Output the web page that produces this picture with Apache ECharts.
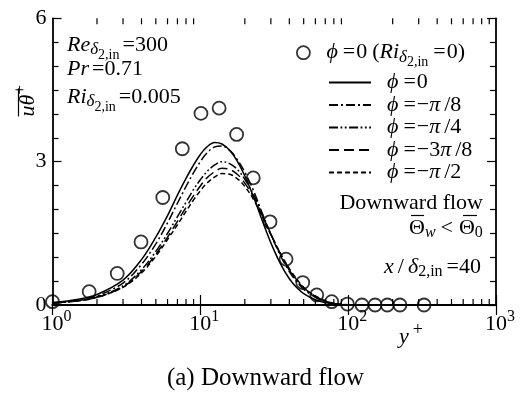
<!DOCTYPE html>
<html><head><meta charset="utf-8">
<script src="https://cdn.jsdelivr.net/npm/echarts@6/dist/echarts.min.js"></script>
<style>html,body{margin:0;padding:0;background:#fff}#c{width:531px;height:394px}</style>
</head><body><div id="c"></div>
<script>
// ---- data ----
const circX = [1.0, 1.77, 2.74, 3.97, 5.57, 7.55, 10.1, 13.4, 17.6, 22.8, 29.6, 38.0, 49.3, 61.3, 77.4, 98.8, 124, 152, 184, 224, 326];
const circY = [0.07, 0.28, 0.66, 1.32, 2.25, 3.27, 4.01, 4.12, 3.57, 2.66, 1.74, 0.96, 0.47, 0.21, 0.07, 0.02, 0.0, 0.0, 0.0, 0.0, 0.0];
const lineX = [1, 1.5, 2, 3, 4, 5, 6, 7, 8, 9, 10, 11, 12.5, 14, 16, 18, 20, 23, 26, 30, 35, 40, 45, 50, 60, 70, 80, 100, 200];
const phi0   = [0.05,0.12,0.22,0.52,0.95,1.42,1.87,2.30,2.65,2.93,3.15,3.30,3.40,3.37,3.22,2.98,2.70,2.25,1.80,1.30,0.85,0.55,0.36,0.24,0.11,0.05,0.02,0.0,0.0];
const phiM8  = [0.04,0.10,0.19,0.46,0.85,1.28,1.72,2.13,2.48,2.77,3.00,3.17,3.31,3.33,3.22,3.02,2.78,2.38,1.95,1.48,1.02,0.70,0.48,0.33,0.16,0.07,0.03,0.005,0.0];
const phiM4  = [0.04,0.09,0.17,0.40,0.74,1.12,1.50,1.85,2.15,2.42,2.62,2.78,2.93,3.00,2.95,2.82,2.63,2.30,1.92,1.48,1.05,0.73,0.51,0.35,0.17,0.08,0.03,0.005,0.0];
const phiM38 = [0.04,0.09,0.16,0.38,0.70,1.06,1.42,1.75,2.04,2.29,2.49,2.65,2.79,2.86,2.83,2.72,2.55,2.25,1.90,1.48,1.06,0.75,0.52,0.36,0.18,0.08,0.03,0.005,0.0];
const phiM2  = [0.04,0.09,0.16,0.37,0.67,1.02,1.37,1.68,1.96,2.20,2.39,2.54,2.68,2.75,2.73,2.63,2.48,2.20,1.87,1.47,1.07,0.76,0.54,0.37,0.19,0.09,0.03,0.005,0.0];
const xMinorTicks = [2,3,4,5,6,7,8,9,20,30,40,50,60,70,80,90,200,300,400,500,600,700,800,900];
const xTickExp = {1:'0', 10:'1', 100:'2', 1000:'3'};
const yTickLabels = [0, 3, 6];

// ---- chart ----
const SERIF = '"Liberation Serif","DejaVu Serif",serif';
const FS = 22;
const LH = 32;
const base = {fontFamily: SERIF, color: '#000', lineHeight: LH};
const richMath = {
  n: Object.assign({fontSize: FS}, base),
  i: Object.assign({fontSize: FS, fontStyle: 'italic'}, base),
  s1: Object.assign({fontSize: 17, fontStyle: 'italic', padding: [9,0,0,0]}, base),
  s2: Object.assign({fontSize: 14, padding: [20,0,0,0]}, base),
  sb: Object.assign({fontSize: 16, padding: [10,0,0,0]}, base),
  sbi: Object.assign({fontSize: 16, fontStyle: 'italic', padding: [10,0,0,0]}, base),
  sup: Object.assign({fontSize: 17, padding: [0,0,16,0]}, base),
  supy: Object.assign({fontSize: 18, padding: [0,0,15,4]}, base),
  sp: Object.assign({fontSize: FS, padding: [0,0,0,3]}, base),
  eqp: Object.assign({fontSize: FS, padding: [0,2,0,3]}, base),
  eqL: Object.assign({fontSize: FS, padding: [0,1,0,5]}, base),
  slL: Object.assign({fontSize: FS, padding: [0,0,0,4]}, base),
  opL: Object.assign({fontSize: FS, padding: [0,0,0,5]}, base),
  lt: Object.assign({fontSize: FS, padding: [0,6,0,5]}, base),
  sl: Object.assign({fontSize: FS, padding: [0,4,0,4]}, base),
  eq: Object.assign({fontSize: FS, padding: [0,0,0,4]}, base),
  pl: Object.assign({fontSize: FS, padding: [0,0,0,11]}, base)
};
const toPairs = (xs, ys) => xs.map((x, k) => [x, ys[k]]);
const lineSeries = (name, ys, type) => ({
  name, type: 'line', data: toPairs(lineX, ys), symbol: 'none', smooth: 0.35,
  itemStyle: {color: '#000', opacity: 0},
  lineStyle: {color: '#000', width: 1.5, type, opacity: 1}, z: 3
});
const legendRow = (name, top, fmt, opts) => Object.assign({
  data: [name], left: 328, top, padding: 0, itemWidth: 42, itemHeight: 12,
  itemStyle: {opacity: 0},
  formatter: () => fmt, textStyle: {rich: richMath, fontFamily: SERIF, fontSize: FS, color: '#000'},
  selectedMode: false
}, opts || {});

const chart = echarts.init(document.getElementById('c'), null, {renderer: 'canvas'});
const option = {
  backgroundColor: '#fff',
  animation: false,
  title: {text: '(a) Downward flow', left: 'center', top: 361,
    textStyle: {fontFamily: SERIF, fontSize: 25, fontWeight: 'normal', color: '#000'}},
  grid: {left: 52.5, right: 35, top: 18.3, bottom: 89, containLabel: false},
  xAxis: [{
    type: 'log', logBase: 10, min: 1, max: 1000, position: 'bottom',
    axisLine: {lineStyle: {color: '#000', width: 1.8}},
    axisTick: {inside: true, length: 10, lineStyle: {color: '#000', width: 1.2}},
    splitLine: {show: false},
    axisLabel: {margin: 4, formatter: v => '{b|10}{sup|' + xTickExp[Math.round(v)] + '}',
      rich: {b: {fontFamily: SERIF, fontSize: 22, color: '#000', padding: [0,0,0,8], lineHeight: 30},
             sup: {fontFamily: SERIF, fontSize: 16, color: '#000', padding: [0,0,14,0], lineHeight: 30}}}
  }, {
    type: 'log', logBase: 10, min: 1, max: 1000, position: 'top',
    axisLine: {lineStyle: {color: '#000', width: 1.8}},
    axisTick: {inside: true, length: 10, lineStyle: {color: '#000', width: 1.2}},
    axisLabel: {show: false}, splitLine: {show: false}
  }],
  yAxis: [{
    type: 'value', min: 0, max: 6, interval: 3, position: 'left',
    axisLine: {show: true, lineStyle: {color: '#000', width: 1.8}},
    axisTick: {show: true, inside: true, length: 9, lineStyle: {color: '#000', width: 1.2}},
    minorTick: {show: true, splitNumber: 6, length: 6, lineStyle: {color: '#000', width: 1.2}},
    splitLine: {show: false}, minorSplitLine: {show: false},
    axisLabel: {margin: 6, fontFamily: SERIF, fontSize: 22, color: '#000',
      formatter: v => yTickLabels.includes(v) ? String(v) : ''}
  }, {
    type: 'value', min: 0, max: 6, interval: 3, position: 'right',
    axisLine: {show: true, lineStyle: {color: '#000', width: 1.8}},
    axisTick: {show: true, inside: true, length: 9, lineStyle: {color: '#000', width: 1.2}},
    minorTick: {show: true, splitNumber: 6, length: 6, lineStyle: {color: '#000', width: 1.2}},
    splitLine: {show: false}, axisLabel: {show: false}
  }],
  legend: [
    legendRow('dns', 35.7, '{pl|}{i|ϕ}{eqL|=}{n|0}{opL|(}{i|Ri}{s1|δ}{s2|2,in}{eqL|=}{n|0)}', {left: 296, itemWidth: 14, itemHeight: 13, itemStyle: {borderWidth: 1.8}}),
    legendRow('phi0', 71.4, '{pl|}{i|ϕ}{eqL|=}{n|0}'),
    legendRow('phiM8', 93.9, '{pl|}{i|ϕ}{eqL|=}{n|−}{i|π}{slL|/}{n|8}'),
    legendRow('phiM4', 116.4, '{pl|}{i|ϕ}{eqL|=}{n|−}{i|π}{slL|/}{n|4}'),
    legendRow('phiM38', 138.9, '{pl|}{i|ϕ}{eqL|=}{n|−3}{i|π}{slL|/}{n|8}'),
    legendRow('phiM2', 161.4, '{pl|}{i|ϕ}{eqL|=}{n|−}{i|π}{slL|/}{n|2}')
  ],
  series: [
    {name: 'dns', type: 'scatter', data: toPairs(circX, circY), symbol: 'circle', symbolSize: 13,
     itemStyle: {color: 'rgba(255,255,255,0)', borderColor: '#000', borderWidth: 1.8}, z: 4},
    lineSeries('phi0', phi0, 'solid'),
    lineSeries('phiM8', phiM8, [9, 3, 2, 3]),
    lineSeries('phiM4', phiM4, [9, 2.5, 1.8, 2.5, 1.8, 2.5]),
    lineSeries('phiM38', phiM38, [10, 5]),
    lineSeries('phiM2', phiM2, [5, 3]),
    {type: 'custom', silent: true, clip: false, data: xMinorTicks.map(v => [v, 3]), z: 10,
     renderItem: (params, api) => {
       const v = api.value(0);
       const pb = api.coord([v, 0]);
       const pt = api.coord([v, 6]);
       return {type: 'group', children: [
         {type: 'line', shape: {x1: pb[0], y1: pb[1], x2: pb[0], y2: pb[1] - 6}, style: {stroke: '#000', lineWidth: 1.2}},
         {type: 'line', shape: {x1: pt[0], y1: pt[1], x2: pt[0], y2: pt[1] + 6}, style: {stroke: '#000', lineWidth: 1.2}}
       ]};
     }}
  ],
  graphic: [
    {type: 'text', left: 67, top: 28, style: {text: '{i|Re}{s1|δ}{s2|2,in}{eqp|=300}', rich: richMath}},
    {type: 'text', left: 67, top: 58, style: {text: '{i|Pr}{eqp|=0.71}', rich: richMath}},
    {type: 'text', left: 67, top: 80, style: {text: '{i|Ri}{s1|δ}{s2|2,in}{eqp|=0.005}', rich: richMath}},
    {type: 'text', right: 48, top: 192, style: {text: '{n|Downward flow}', rich: richMath}},
    {type: 'text', left: 409, top: 215, style: {text: '{n|Θ}{sbi|w}{lt|<}{n|Θ}{sb|0}', rich: richMath}},
    {type: 'line', shape: {x1: 411, y1: 215.5, x2: 424, y2: 215.5}, style: {stroke: '#000', lineWidth: 1.2}},
    {type: 'line', shape: {x1: 463, y1: 215.5, x2: 477, y2: 215.5}, style: {stroke: '#000', lineWidth: 1.2}},
    {type: 'text', right: 50, top: 254, style: {text: '{i|x}{sl|/}{i|δ}{sb|2,in}{eq|=40}', rich: richMath}},
    {type: 'text', left: 399, top: 321, style: {text: '{i|y}{supy|+}', rich: richMath}},
    {type: 'group', left: 12, top: 85, children: [
      {type: 'text', rotation: Math.PI / 2, x: 0, y: 40, style: {text: '{i|uθ}{sup|+}', rich: richMath}},
      {type: 'line', shape: {x1: 6, y1: 12, x2: 6, y2: 40}, style: {stroke: '#000', lineWidth: 1.2}}
    ]}
  ]
};
chart.setOption(option);
</script>
</body></html>
